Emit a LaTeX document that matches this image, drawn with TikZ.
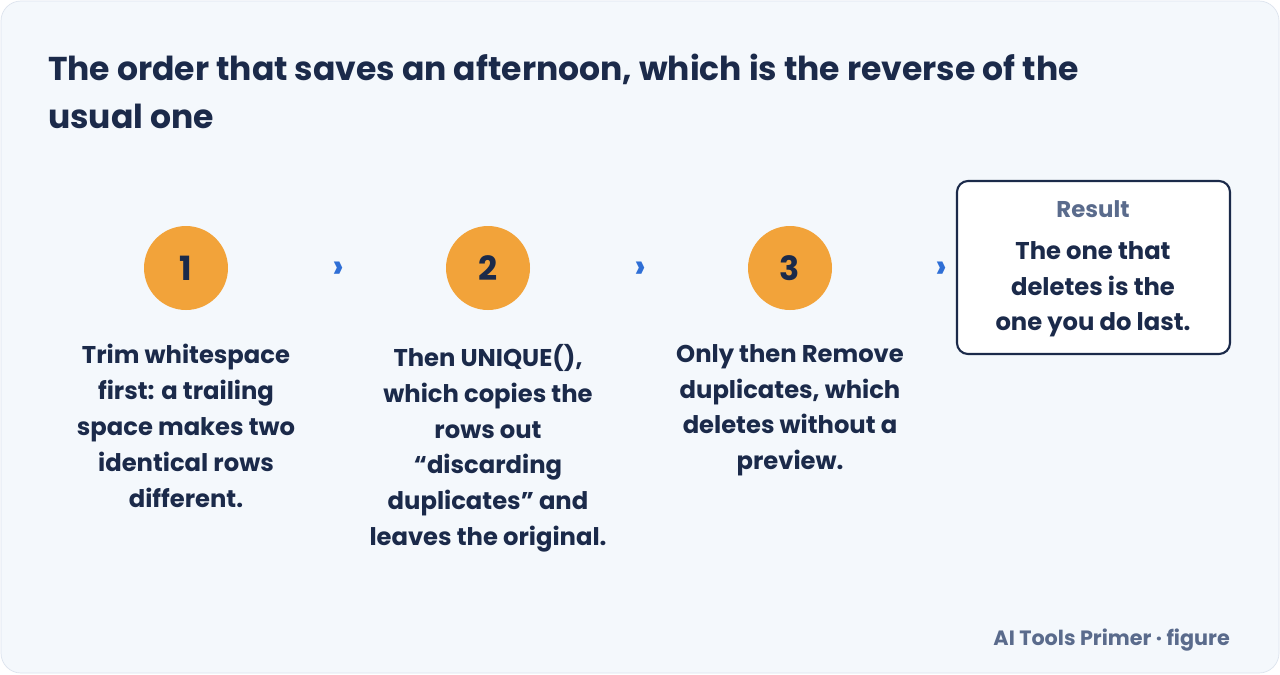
\documentclass[tikz,border=0pt]{standalone}
\usepackage{fontspec}
\setmainfont{Poppins}
\usetikzlibrary{positioning}
\definecolor{ink}{HTML}{1B2A4A}
\definecolor{muted}{HTML}{5A6B8C}
\definecolor{badge}{HTML}{F2A33A}
\definecolor{chev}{HTML}{2F6FD6}
\definecolor{paper}{HTML}{F4F8FC}
\definecolor{rim}{HTML}{DDE4EE}
\begin{document}
\begin{tikzpicture}[
  x=0.02cm, y=-0.02cm,
  badge node/.style={circle,fill=badge,minimum size=1.68cm,inner sep=0pt,
    font=\fontsize{19}{22}\selectfont\bfseries,text=ink},
  desc/.style={align=center,font=\fontsize{13.8}{20.4}\selectfont\bfseries,
    text=ink,anchor=north},
  chevron/.style={text=chev,font=\fontsize{20}{20}\selectfont\bfseries},
  ]
  \fill[white] (0,0) rectangle (1280,674);
  \draw[rim,fill=paper,rounded corners=0.4cm] (1,1) rectangle (1279,673);

  \node[anchor=north west,align=left,text=ink,font=\fontsize{18.8}{27}\selectfont\bfseries]
    (title) at (42,48) {The order that saves an afternoon, which is the reverse of the\\usual one};

  \node[badge node] (s1) at (186,268) {1};
  \node[badge node] (s2) at (488,268) {2};
  \node[badge node] (s3) at (790,268) {3};
  \node[chevron] (c1) at (338,270) {›};
  \node[chevron] (c2) at (640,270) {›};
  \node[chevron] (c3) at (941,270) {›};

  \node[desc] (d1) at (186,338) {Trim whitespace\\first: a trailing\\space makes two\\identical rows\\different.};
  \node[desc] (d2) at (488,338) {Then UNIQUE(),\\which copies the\\rows out\\“discarding\\duplicates” and\\leaves the original.};
  \node[desc] (d3) at (790,338) {Only then Remove\\duplicates, which\\deletes without a\\preview.};

  \draw[ink,line width=1.2pt,fill=white,rounded corners=0.22cm] (957,181) rectangle (1230,354);
  \node[text=muted,font=\fontsize{13}{16}\selectfont\bfseries] (rlabel) at (1093,209) {Result};
  \node[desc,anchor=north] (rtext) at (1093,235) {The one that\\deletes is the\\one you do last.};

  \node[anchor=east,text=muted,font=\fontsize{11.8}{14}\selectfont\bfseries] (foot) at (1236,640) {AI Tools Primer · figure};
\end{tikzpicture}
\end{document}
